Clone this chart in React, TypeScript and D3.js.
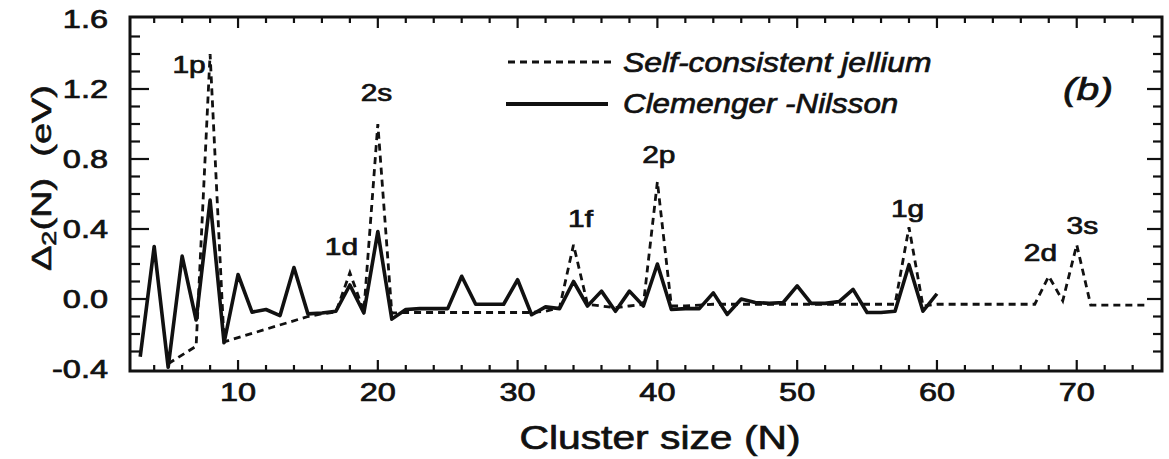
import * as d3 from 'd3';

const WIDTH = 1169;
const HEIGHT = 459;
const FONT = '"Liberation Sans", Arial, Helvetica, sans-serif';
const INK = '#111';

// Clemenger-Nilsson (solid)
const cnSizes = [3, 4, 5, 6, 7, 8, 9, 10, 11, 12, 13, 14, 15, 16, 17, 18, 19, 20, 21, 22, 23, 24, 25, 26, 27, 28, 29, 30, 31, 32, 33, 34, 35, 36, 37, 38, 39, 40, 41, 42, 43, 44, 45, 46, 47, 48, 49, 50, 51, 52, 53, 54, 55, 56, 57, 58, 59, 60];
const cnDelta = [-0.33, 0.30, -0.39, 0.245, -0.12, 0.565, -0.25, 0.14, -0.075, -0.06, -0.095, 0.18, -0.085, -0.08, -0.07, 0.08, -0.08, 0.385, -0.115, -0.06, -0.055, -0.055, -0.055, 0.13, -0.03, -0.03, -0.03, 0.11, -0.09, -0.045, -0.055, 0.10, -0.04, 0.045, -0.07, 0.045, -0.04, 0.20, -0.06, -0.055, -0.055, 0.035, -0.088, 0.0, -0.02, -0.025, -0.02, 0.075, -0.025, -0.025, -0.015, 0.055, -0.077, -0.077, -0.07, 0.196, -0.07, 0.03];

// Self-consistent jellium (dashed)
const jelSizes = [5, 7, 8, 9, 15, 16, 17, 18, 19, 20, 21, 22, 23, 24, 25, 26, 27, 28, 29, 30, 31, 32, 33, 34, 35, 36, 37, 38, 39, 40, 41, 42, 43, 44, 45, 46, 47, 48, 49, 50, 51, 52, 53, 54, 55, 56, 57, 58, 59, 60, 61, 62, 63, 64, 65, 66, 67, 68, 69, 70, 71, 72, 73, 74, 75];
const jelDelta = [-0.37, -0.27, 1.40, -0.245, -0.10, -0.085, -0.075, 0.15, -0.07, 1.00, -0.08, -0.077, -0.077, -0.077, -0.077, -0.077, -0.077, -0.077, -0.077, -0.077, -0.077, -0.07, -0.05, 0.31, -0.03, -0.04, -0.05, -0.04, -0.03, 0.67, -0.04, -0.04, -0.035, -0.03, -0.03, -0.03, -0.03, -0.03, -0.03, -0.03, -0.03, -0.03, -0.03, -0.03, -0.03, -0.03, -0.03, 0.41, -0.04, -0.03, -0.03, -0.03, -0.03, -0.03, -0.03, -0.03, -0.03, 0.13, -0.01, 0.31, -0.035, -0.035, -0.035, -0.035, -0.035];

const xTickLabels = [10, 20, 30, 40, 50, 60, 70];
const yTickLabels = [-0.4, 0.0, 0.4, 0.8, 1.2, 1.6];

// shell closure labels, anchored in data units
const shellNames = ['1p', '2s', '1d', '1f', '2p', '1g', '2d', '3s'];
const shellN = [6.5, 19.9, 17.4, 34.5, 40.1, 57.9, 67.4, 70.4];
const shellY = [1.29, 1.13, 0.25, 0.41, 0.78, 0.47, 0.215, 0.37];

const left = 130, right = 1162, top = 17, bottom = 371;
const x = d3.scaleLinear().domain([2.27, 76.1]).range([left, right]);
const y = d3.scaleLinear().domain([-0.4, 1.6]).range([369, 19]);

const line = d3.line<[number, number]>().x(d => x(d[0])).y(d => y(d[1]));

const Label = ({ px, py, s, size, sx, anchor = 'middle', italic = false }:
  { px: number; py: number; s: string; size: number; sx: number; anchor?: string; italic?: boolean }) => (
  <text transform={`translate(${px},${py}) scale(${sx},1)`} textAnchor={anchor} fontFamily={FONT}
    fontSize={size} fontStyle={italic ? 'italic' : 'normal'} fill={INK} stroke={INK} strokeWidth={0.7}>{s}</text>
);

export default function App() {
  const jel = jelSizes.map((n, i) => [n, jelDelta[i]] as [number, number]);
  const cn = cnSizes.map((n, i) => [n, cnDelta[i]] as [number, number]);

  const xt = d3.range(4, 76, 2);
  const yt = d3.range(-3, 16);

  return (
    <svg width={WIDTH} height={HEIGHT}
      style={{ display: 'block', position: 'absolute', left: 0, top: 0, background: '#fff' }}>
      <g stroke={INK} strokeWidth={2.2}>
        {xt.map(n => {
          const len = n % 10 === 0 ? 11 : 6;
          return (
            <g key={'x' + n}>
              <line x1={x(n)} x2={x(n)} y1={bottom} y2={bottom - len} />
              <line x1={x(n)} x2={x(n)} y1={top} y2={top + len} />
            </g>
          );
        })}
        {yt.map(i => {
          const major = i % 4 === 0;
          return (
            <g key={'y' + i}>
              <line x1={left} x2={left + (major ? 19 : 10)} y1={y(i / 10)} y2={y(i / 10)} />
              <line x1={right} x2={right - (major ? 15 : 9)} y1={y(i / 10)} y2={y(i / 10)} />
            </g>
          );
        })}
      </g>
      <rect x={left} y={top} width={right - left} height={bottom - top} fill="none" stroke={INK} strokeWidth={3} />

      <path d={line(jel) || ''} fill="none" stroke={INK} strokeWidth={2.8} strokeDasharray="7,5" />
      <path d={line(cn) || ''} fill="none" stroke={INK} strokeWidth={3.6} strokeLinejoin="round" />

      {xTickLabels.map(n => <Label key={'xl' + n} px={x(n)} py={401} s={String(n)} size={25} sx={1.3} />)}
      {yTickLabels.map(v => <Label key={'yl' + v} px={108} py={y(v) + 9} s={v.toFixed(1)} size={25} sx={1.3} anchor="end" />)}

      {shellNames.map((s, i) => <Label key={s} px={x(shellN[i])} py={y(shellY[i])} s={s} size={23} sx={1.3} />)}

      <line x1={508} x2={612} y1={62} y2={62} stroke={INK} strokeWidth={2.8} strokeDasharray="7,5" />
      <line x1={506} x2={608} y1={104} y2={104} stroke={INK} strokeWidth={4} />
      <Label px={623} py={72} s="Self-consistent jellium" size={28} sx={1.14} anchor="start" italic />
      <Label px={623} py={113} s="Clemenger -Nilsson" size={28} sx={1.12} anchor="start" italic />
      <Label px={1088} py={100} s="(b)" size={32} sx={1.28} italic />

      <Label px={660} py={449} s="Cluster size (N)" size={34} sx={1.2} />

      <text transform="translate(51,178) rotate(-90) scale(1,0.75)" textAnchor="middle" fontFamily={FONT}
        fontSize={38} fill={INK} stroke={INK} strokeWidth={0.8}>
        <tspan>Δ</tspan>
        <tspan fontSize={27} dy={7}>2</tspan>
        <tspan dy={-7}>(N)&nbsp;&nbsp;(eV)</tspan>
      </text>
    </svg>
  );
}
